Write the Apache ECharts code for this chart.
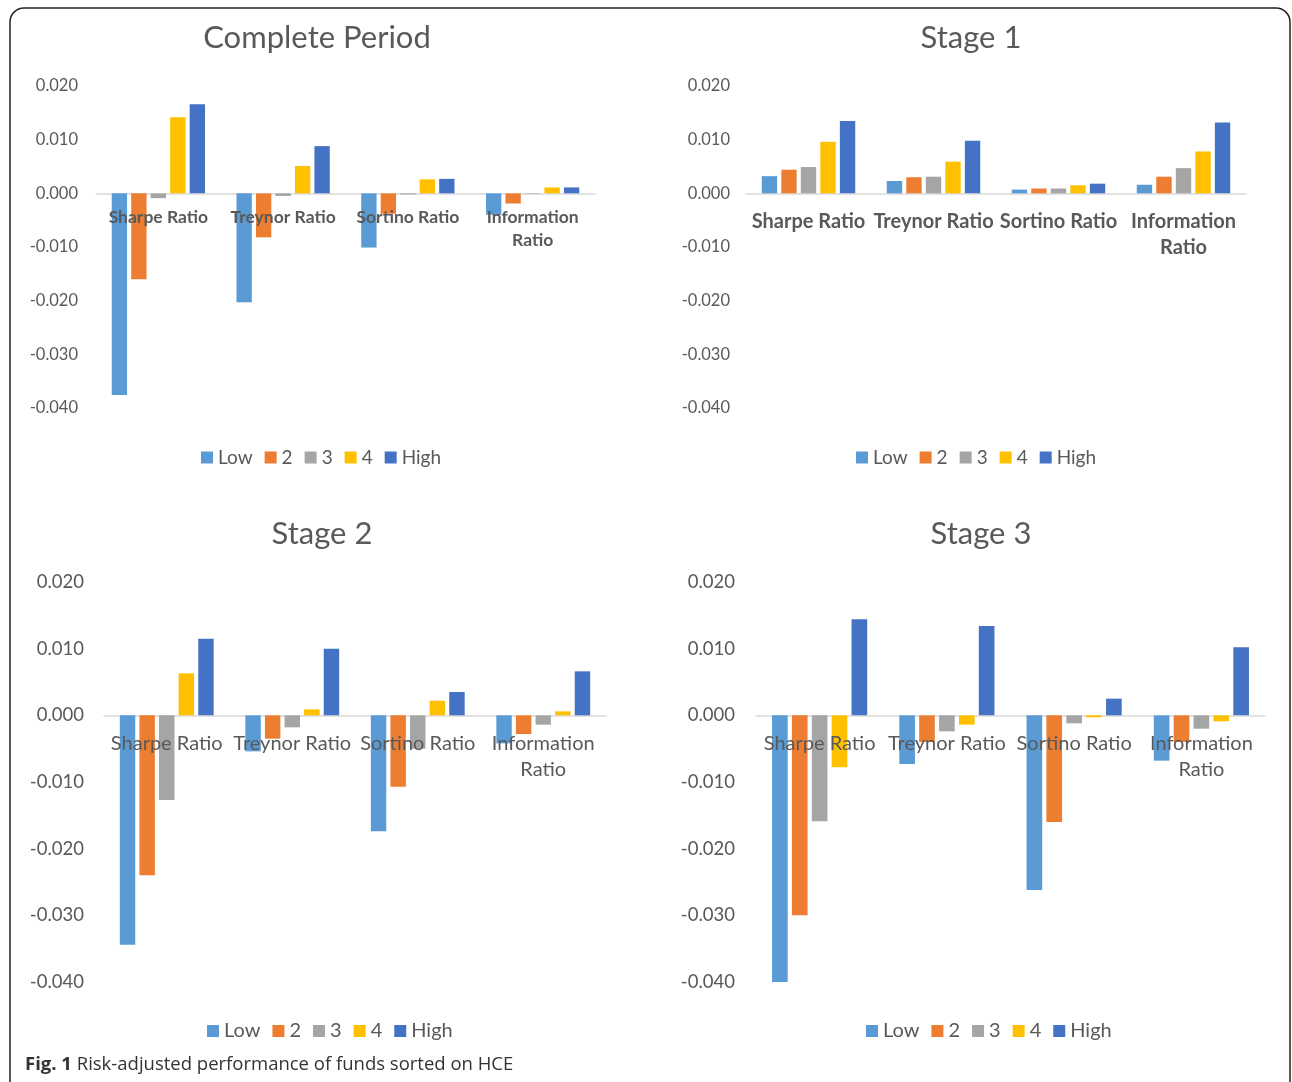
<!DOCTYPE html>
<html>
<head>
<meta charset="utf-8">
<script src="https://cdn.jsdelivr.net/npm/echarts@6/dist/echarts.min.js"></script>
<style>
html,body{margin:0;padding:0;background:#fff;}
#chart{width:1292px;height:1082px;}
</style>
</head>
<body>
<div id="chart"></div>
<script>
const categories = ['Sharpe Ratio', 'Treynor Ratio', 'Sortino Ratio', 'Information Ratio'];
const quintiles = ['Low', '2', '3', '4', 'High'];
const panelTitles = ['Complete Period', 'Stage 1', 'Stage 2', 'Stage 3'];

const completeLow  = [-0.0376, -0.0203, -0.0101, -0.0040];
const complete2    = [-0.0160, -0.0082, -0.0038, -0.0019];
const complete3    = [-0.0009, -0.0005, -0.0002, -0.0001];
const complete4    = [0.0142, 0.0051, 0.0026, 0.0011];
const completeHigh = [0.0166, 0.0088, 0.0027, 0.0011];

const stage1Low  = [0.0032, 0.0023, 0.0007, 0.0016];
const stage1_2   = [0.0044, 0.0030, 0.0009, 0.0031];
const stage1_3   = [0.0049, 0.0031, 0.0009, 0.0047];
const stage1_4   = [0.0096, 0.0059, 0.0015, 0.0078];
const stage1High = [0.0135, 0.0098, 0.0018, 0.0132];

const stage2Low  = [-0.0344, -0.0054, -0.0174, -0.0042];
const stage2_2   = [-0.0240, -0.0035, -0.0107, -0.0028];
const stage2_3   = [-0.0127, -0.0018, -0.0050, -0.0014];
const stage2_4   = [0.0063, 0.0009, 0.0022, 0.0006];
const stage2High = [0.0115, 0.0100, 0.0035, 0.0066];

const stage3Low  = [-0.0403, -0.0073, -0.0262, -0.0068];
const stage3_2   = [-0.0300, -0.0040, -0.0160, -0.0040];
const stage3_3   = [-0.0159, -0.0024, -0.0012, -0.0020];
const stage3_4   = [-0.0078, -0.0014, -0.0003, -0.0009];
const stage3High = [0.0144, 0.0134, 0.0025, 0.0102];

const yMin = -0.04, yMax = 0.02, yStep = 0.01;

const panelData = [
  [completeLow, complete2, complete3, complete4, completeHigh],
  [stage1Low, stage1_2, stage1_3, stage1_4, stage1High],
  [stage2Low, stage2_2, stage2_3, stage2_4, stage2High],
  [stage3Low, stage3_2, stage3_3, stage3_4, stage3High]
];

const colors = ['#5B9BD5', '#ED7D31', '#A5A5A5', '#FFC000', '#4472C4'];
const FONT = 'Lato';
const TXT = '#595959';

const layout = [
  {left: 96,  top: 86,  width: 499, height: 322, yMargin: 18, yFont: 16.5, xFont: 17.5, xBold: true,  xMargin: 13, xLine: 23, title: [317, 38], titleFont: 31, legend: [196, 443], legFont: 19, legGap: 12},
  {left: 746, top: 86,  width: 500, height: 322, yMargin: 16, yFont: 16.5, xFont: 20,   xBold: true,  xMargin: 15, xLine: 26, title: [971, 38], titleFont: 31, legend: [851, 443], legFont: 19, legGap: 12},
  {left: 104, top: 582, width: 502, height: 400, yMargin: 20, yFont: 18.5, xFont: 20,   xBold: false, xMargin: 15, xLine: 26, title: [322, 534], titleFont: 31, legend: [202, 1016], legFont: 20, legGap: 12},
  {left: 756, top: 582, width: 509, height: 400, yMargin: 21, yFont: 18.5, xFont: 20,   xBold: false, xMargin: 15, xLine: 26, title: [981, 534], titleFont: 31, legend: [861, 1016], legFont: 20, legGap: 12}
];

const grids = [], xAxes = [], yAxes = [], series = [], legends = [], graphics = [];

// main grids 0..3
layout.forEach((L, p) => {
  grids.push({left: L.left, top: L.top, width: L.width, height: L.height});
  xAxes.push({
    type: 'category', gridIndex: p, data: categories,
    axisLine: {show: true, onZero: true, lineStyle: {color: '#D9D9D9', width: 1.5}},
    axisTick: {show: false}, axisLabel: {show: false}
  });
  yAxes.push({
    type: 'value', gridIndex: p, min: yMin, max: yMax, interval: yStep,
    axisLine: {show: false}, axisTick: {show: false}, splitLine: {show: false},
    axisLabel: {color: TXT, fontFamily: FONT, fontSize: L.yFont, margin: L.yMargin,
      formatter: v => v.toFixed(3)}
  });
  quintiles.forEach((q, i) => {
    series.push({
      type: 'bar', name: q, xAxisIndex: p, yAxisIndex: p,
      data: panelData[p][i], barWidth: '12.3%', barGap: '27%',
      itemStyle: {color: colors[i]}
    });
  });
  legends.push({
    data: quintiles, left: L.legend[0], top: L.legend[1], orient: 'horizontal',
    icon: 'rect', itemWidth: 12, itemHeight: 12, itemGap: L.legGap,
    textStyle: {color: TXT, fontFamily: FONT, fontSize: L.legFont}
  });
  graphics.push({
    type: 'text', x: L.title[0], y: L.title[1],
    style: {text: panelTitles[p], fill: TXT, font: L.titleFont + 'px ' + FONT, textAlign: 'center', textVerticalAlign: 'middle'}
  });
});

// label grids 4..7: bottom edge sits on the zero line, category labels drawn above the bars
layout.forEach((L, p) => {
  const zeroH = L.height * yMax / (yMax - yMin);
  grids.push({left: L.left, top: L.top, width: L.width, height: zeroH, z: 10});
  xAxes.push({
    type: 'category', gridIndex: 4 + p, data: categories, z: 10,
    axisLine: {show: false}, axisTick: {show: false},
    axisLabel: {
      interval: 0, color: TXT, fontFamily: FONT, fontSize: L.xFont,
      fontWeight: L.xBold ? 'bold' : 'normal', margin: L.xMargin, lineHeight: L.xLine,
      formatter: v => v === 'Information Ratio' ? 'Information\nRatio' : v
    }
  });
  yAxes.push({type: 'value', gridIndex: 4 + p, show: false});
});

graphics.push({
  type: 'rect', shape: {x: 10, y: 8, width: 1280, height: 1120, r: 14},
  style: {fill: null, stroke: '#222', lineWidth: 1.5}, z: -1
});
graphics.push({
  type: 'text', x: 25, y: 1065,
  style: {
    text: '{b|Fig. 1} Risk-adjusted performance of funds sorted on HCE',
    fill: '#333', font: '18.5px "Open Sans"', textVerticalAlign: 'middle',
    rich: {b: {fontWeight: 'bold', fontSize: 18.5, fontFamily: 'Open Sans', fill: '#333'}}
  }
});

const chart = echarts.init(document.getElementById('chart'));
chart.setOption({
  animation: false,
  color: colors,
  grid: grids,
  xAxis: xAxes,
  yAxis: yAxes,
  legend: legends,
  series: series,
  graphic: graphics
});
</script>
</body>
</html>
